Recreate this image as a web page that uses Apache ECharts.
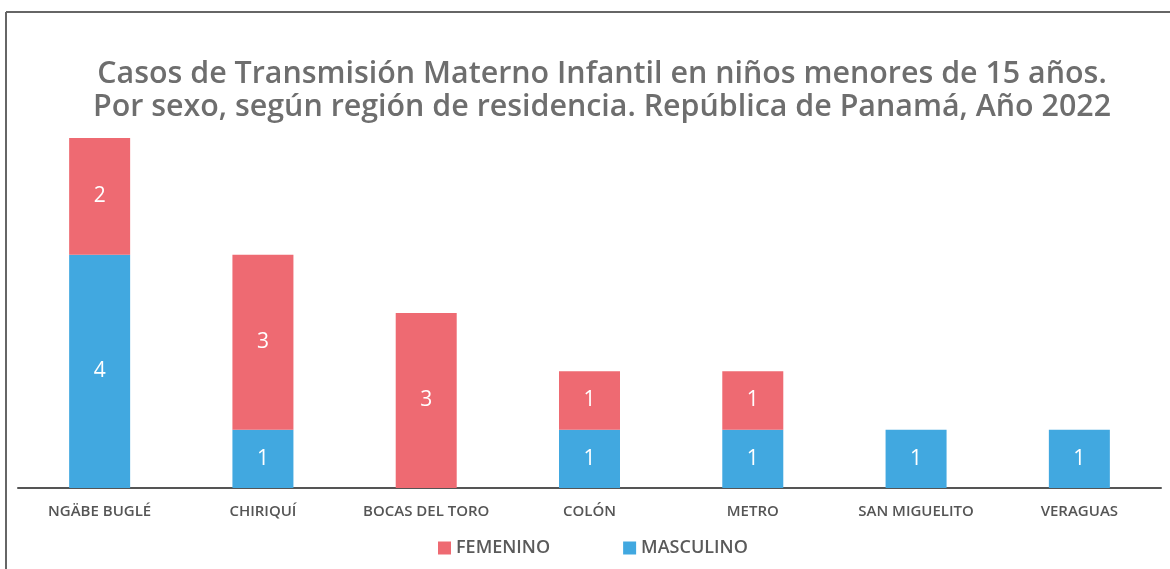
<!DOCTYPE html>
<html><head><meta charset="utf-8">
<script src="https://cdn.jsdelivr.net/npm/echarts@6/dist/echarts.min.js"></script>
<style>html,body{margin:0;padding:0;background:#fff}#c{width:1170px;height:569px}</style>
</head><body><div id="c"></div>
<script>
const categories = ['NGÄBE BUGLÉ','CHIRIQUÍ','BOCAS DEL TORO','COLÓN','METRO','SAN MIGUELITO','VERAGUAS'];
const masculino = [4,1,0,1,1,1,1];
const femenino = [2,3,3,1,1,0,0];
const titleLines = ['Casos de Transmisión Materno Infantil en niños menores de 15 años.','Por sexo, según región de residencia. República de Panamá, Año 2022'];

const chart = echarts.init(document.getElementById('c'));
const lbl = {show:true, position:'inside', color:'#fff', fontSize:21, fontFamily:'Open Sans',
  formatter: p => p.value > 0 ? p.value : ''};
chart.setOption({
  animation:false,
  title:{text:titleLines.join('\n'), left:597, top:53, textAlign:'center',
    textStyle:{color:'#6e6e6e', fontSize:30.4, fontWeight:600, fontFamily:'Open Sans', lineHeight:33, align:'center'}},
  legend:{bottom:7, left:433, itemGap:73, itemWidth:13, itemHeight:13, icon:'rect',
    data:['FEMENINO','MASCULINO'],
    textStyle:{color:'#5a5a5a', fontSize:18, fontWeight:600, fontFamily:'Open Sans'}},
  grid:{left:18, right:9, top:138, bottom:81},
  xAxis:{type:'category', data:categories,
    axisLine:{lineStyle:{color:'#555', width:2}}, axisTick:{show:false},
    axisLabel:{color:'#555', fontSize:15, fontWeight:600, fontFamily:'Open Sans', margin:16, interval:0}},
  yAxis:{type:'value', min:0, max:6, show:false, splitLine:{show:false}},
  graphic:[
    {type:'line', shape:{x1:6,y1:12,x2:1170,y2:12}, style:{stroke:'#666', lineWidth:2}},
    {type:'line', shape:{x1:6,y1:12,x2:6,y2:569}, style:{stroke:'#666', lineWidth:2}}
  ],
  series:[
    {name:'MASCULINO', type:'bar', stack:'s', data:masculino, barWidth:61,
      itemStyle:{color:'#41a8e0'}, label:lbl},
    {name:'FEMENINO', type:'bar', stack:'s', data:femenino, barWidth:61,
      itemStyle:{color:'#ee6a72'}, label:lbl}
  ]
});
</script></body></html>
